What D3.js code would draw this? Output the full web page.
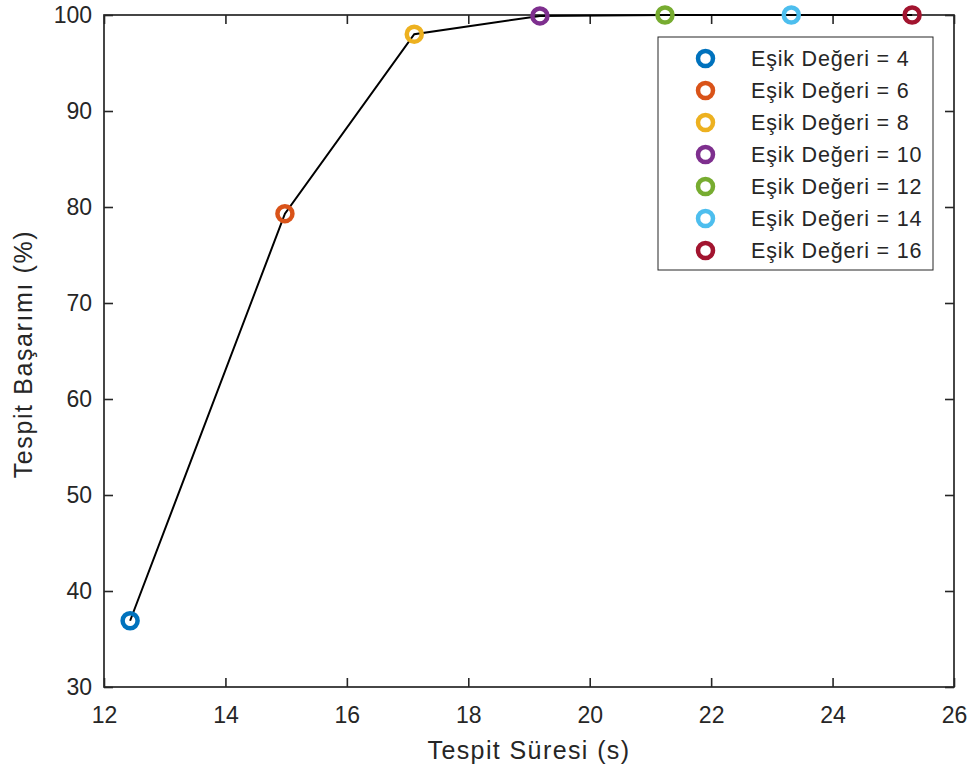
<!DOCTYPE html>
<html>
<head>
<meta charset="utf-8">
<script src="https://cdn.jsdelivr.net/npm/d3@7"></script>
<style>
  body { margin: 0; background: #fff; }
  text { font-family: Arial, "Liberation Sans", sans-serif; fill: #262626; }
</style>
</head>
<body>
<div data-js-graph></div>
<script>
// chart data
const thresholds = [4, 6, 8, 10, 12, 14, 16];
const detectTime = [12.43, 14.98, 17.11, 19.18, 21.24, 23.32, 25.31];
const successRate = [36.9, 79.3, 98.0, 99.9, 100, 100, 100];
const colors = ['#0072BD', '#D95319', '#EDB120', '#7E2F8E', '#77AC30', '#4DBEEE', '#A2142F'];
const xTicks = [12, 14, 16, 18, 20, 22, 24, 26];
const yTicks = [30, 40, 50, 60, 70, 80, 90, 100];

const SETTING = {
  width: 972,
  height: 773,
  left: 104,
  right: 954,
  top: 15,
  bottom: 687,
  tick: 9,
};

const svg = d3.select('[data-js-graph]').append('svg')
  .attr('width', SETTING.width)
  .attr('height', SETTING.height);

const x = d3.scaleLinear().domain([12, 26]).range([SETTING.left, SETTING.right]);
const y = d3.scaleLinear().domain([30, 100]).range([SETTING.bottom, SETTING.top]);

const axisColor = '#262626';

// axes (MATLAB style: ticks inside, box on)
const bottomAxis = svg.append('g')
  .attr('transform', `translate(0,${SETTING.bottom})`)
  .call(d3.axisBottom(x).tickValues(xTicks).tickSize(-SETTING.tick).tickPadding(20).tickFormat(d3.format('d')));
const leftAxis = svg.append('g')
  .attr('transform', `translate(${SETTING.left},0)`)
  .call(d3.axisLeft(y).tickValues(yTicks).tickSize(-SETTING.tick).tickPadding(12).tickFormat(d3.format('d')));
const topAxis = svg.append('g')
  .attr('transform', `translate(0,${SETTING.top})`)
  .call(d3.axisTop(x).tickValues(xTicks).tickSize(-SETTING.tick).tickFormat(''));
const rightAxis = svg.append('g')
  .attr('transform', `translate(${SETTING.right},0)`)
  .call(d3.axisRight(y).tickValues(yTicks).tickSize(-SETTING.tick).tickFormat(''));

[bottomAxis, leftAxis, topAxis, rightAxis].forEach((ax) => {
  ax.select('.domain').remove();
  ax.selectAll('line').attr('stroke', axisColor).attr('stroke-width', 1.6);
  ax.selectAll('text').attr('font-size', 23).attr('fill', axisColor)
    .style('font-family', 'Arial, "Liberation Sans", sans-serif');
});

svg.append('rect')
  .attr('x', SETTING.left)
  .attr('y', SETTING.top)
  .attr('width', SETTING.right - SETTING.left)
  .attr('height', SETTING.bottom - SETTING.top)
  .attr('fill', 'none')
  .attr('stroke', axisColor)
  .attr('stroke-width', 1.7);

// axis labels
svg.append('text')
  .attr('x', (SETTING.left + SETTING.right) / 2)
  .attr('y', 759)
  .attr('text-anchor', 'middle')
  .attr('font-size', 25)
  .attr('letter-spacing', 1.4)
  .text('Tespit Süresi (s)');

svg.append('text')
  .attr('transform', `translate(32,${(SETTING.top + SETTING.bottom) / 2 + 3}) rotate(-90)`)
  .attr('text-anchor', 'middle')
  .attr('font-size', 25)
  .attr('letter-spacing', 1.6)
  .text('Tespit Başarımı (%)');

// line
const points = detectTime.map((d, i) => [d, successRate[i]]);
svg.append('path')
  .datum(points)
  .attr('fill', 'none')
  .attr('stroke', '#000')
  .attr('stroke-width', 2)
  .attr('d', d3.line().x((d) => x(d[0])).y((d) => y(d[1])));

// markers
svg.append('g')
  .selectAll('circle')
  .data(points)
  .enter()
  .append('circle')
  .attr('cx', (d) => x(d[0]))
  .attr('cy', (d) => y(d[1]))
  .attr('r', 7.5)
  .attr('fill', 'none')
  .attr('stroke', (d, i) => colors[i])
  .attr('stroke-width', 4.5);

// legend
const legend = svg.append('g').attr('transform', 'translate(658,37)');
legend.append('rect')
  .attr('width', 275)
  .attr('height', 233)
  .attr('fill', '#fff')
  .attr('stroke', axisColor)
  .attr('stroke-width', 1);

const rows = legend.selectAll('g.row')
  .data(thresholds)
  .enter()
  .append('g')
  .attr('class', 'row')
  .attr('transform', (d, i) => `translate(0,${21.5 + i * 32})`);

rows.append('circle')
  .attr('cx', 47.5)
  .attr('r', 7.5)
  .attr('fill', 'none')
  .attr('stroke', (d, i) => colors[i])
  .attr('stroke-width', 4.5);

rows.append('text')
  .attr('x', 93)
  .attr('y', 7.5)
  .attr('font-size', 21.5)
  .attr('letter-spacing', 0.8)
  .attr('fill', '#000')
  .text((d) => `Eşik Değeri = ${d}`);
</script>
</body>
</html>
